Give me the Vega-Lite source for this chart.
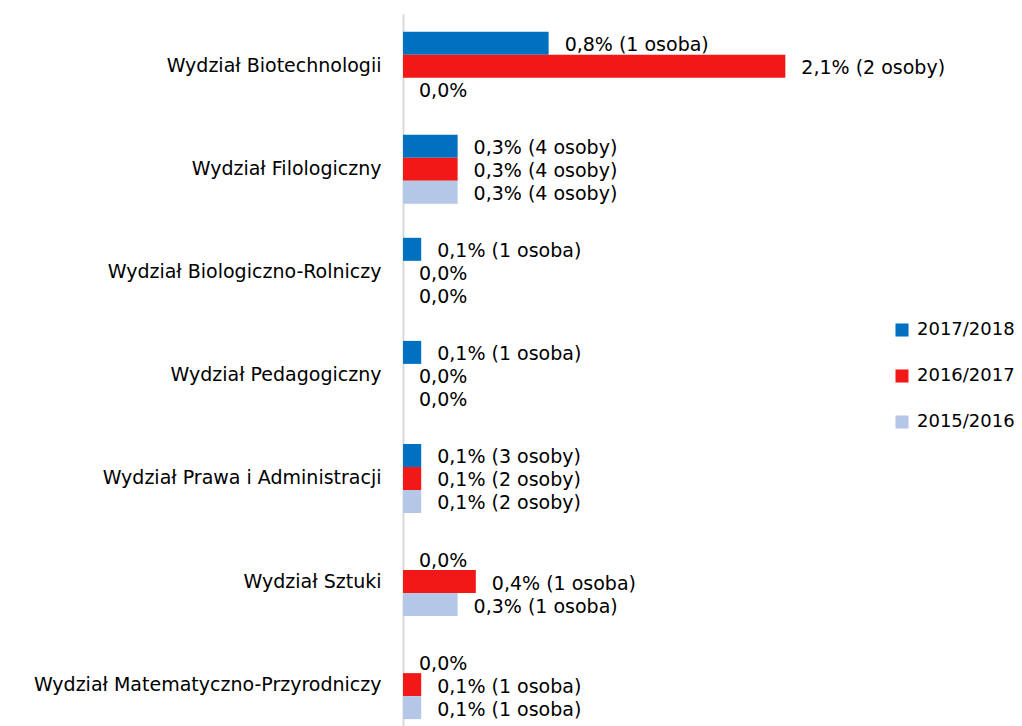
{
  "$schema": "https://vega.github.io/schema/vega-lite/v6.json",
  "width": 619,
  "height": 712,
  "autosize": {"type": "none"},
  "padding": {"left": 403, "top": 14, "right": 0, "bottom": 0},
  "background": "white",
  "config": {
    "view": {"stroke": null},
    "font": "DejaVu Sans",
    "axis": {"labelFont": "DejaVu Sans", "labelColor": "#000000"}
  },
  "data": {
    "values": [
      {"wydzial": "Wydział Biotechnologii", "rok": "2017/2018", "v": 0.8, "label": "0,8% (1 osoba)"},
      {"wydzial": "Wydział Biotechnologii", "rok": "2016/2017", "v": 2.1, "label": "2,1% (2 osoby)"},
      {"wydzial": "Wydział Biotechnologii", "rok": "2015/2016", "v": 0, "label": "0,0%"},
      {"wydzial": "Wydział Filologiczny", "rok": "2017/2018", "v": 0.3, "label": "0,3% (4 osoby)"},
      {"wydzial": "Wydział Filologiczny", "rok": "2016/2017", "v": 0.3, "label": "0,3% (4 osoby)"},
      {"wydzial": "Wydział Filologiczny", "rok": "2015/2016", "v": 0.3, "label": "0,3% (4 osoby)"},
      {"wydzial": "Wydział Biologiczno-Rolniczy", "rok": "2017/2018", "v": 0.1, "label": "0,1% (1 osoba)"},
      {"wydzial": "Wydział Biologiczno-Rolniczy", "rok": "2016/2017", "v": 0, "label": "0,0%"},
      {"wydzial": "Wydział Biologiczno-Rolniczy", "rok": "2015/2016", "v": 0, "label": "0,0%"},
      {"wydzial": "Wydział Pedagogiczny", "rok": "2017/2018", "v": 0.1, "label": "0,1% (1 osoba)"},
      {"wydzial": "Wydział Pedagogiczny", "rok": "2016/2017", "v": 0, "label": "0,0%"},
      {"wydzial": "Wydział Pedagogiczny", "rok": "2015/2016", "v": 0, "label": "0,0%"},
      {"wydzial": "Wydział Prawa i Administracji", "rok": "2017/2018", "v": 0.1, "label": "0,1% (3 osoby)"},
      {"wydzial": "Wydział Prawa i Administracji", "rok": "2016/2017", "v": 0.1, "label": "0,1% (2 osoby)"},
      {"wydzial": "Wydział Prawa i Administracji", "rok": "2015/2016", "v": 0.1, "label": "0,1% (2 osoby)"},
      {"wydzial": "Wydział Sztuki", "rok": "2017/2018", "v": 0, "label": "0,0%"},
      {"wydzial": "Wydział Sztuki", "rok": "2016/2017", "v": 0.4, "label": "0,4% (1 osoba)"},
      {"wydzial": "Wydział Sztuki", "rok": "2015/2016", "v": 0.3, "label": "0,3% (1 osoba)"},
      {"wydzial": "Wydział Matematyczno-Przyrodniczy", "rok": "2017/2018", "v": 0, "label": "0,0%"},
      {"wydzial": "Wydział Matematyczno-Przyrodniczy", "rok": "2016/2017", "v": 0.1, "label": "0,1% (1 osoba)"},
      {"wydzial": "Wydział Matematyczno-Przyrodniczy", "rok": "2015/2016", "v": 0.1, "label": "0,1% (1 osoba)"}
    ]
  },
  "encoding": {
    "y": {
      "field": "wydzial",
      "type": "nominal",
      "sort": null,
      "scale": {"paddingInner": 0.3305, "paddingOuter": 0.119, "align": 0.72},
      "axis": {
        "title": null,
        "ticks": false,
        "labelFontSize": 19,
        "labelPadding": 22,
        "labelLimit": 500,
        "domainColor": "#d9d9d9",
        "domainWidth": 2,
        "grid": false
      }
    },
    "yOffset": {"field": "rok", "type": "nominal", "sort": ["2017/2018", "2016/2017", "2015/2016"]},
    "x": {
      "field": "v",
      "type": "quantitative",
      "scale": {"domain": [0, 3.4], "nice": false},
      "axis": null
    }
  },
  "layer": [
    {
      "mark": {"type": "bar"},
      "encoding": {
        "color": {
          "field": "rok",
          "type": "nominal",
          "sort": ["2017/2018", "2016/2017", "2015/2016"],
          "scale": {"domain": ["2017/2018", "2016/2017", "2015/2016"], "range": ["#0070C0", "#F21818", "#B4C7E7"]},
          "legend": {
            "title": null,
            "orient": "none",
            "legendX": 490,
            "legendY": 307,
            "symbolType": "square",
            "symbolSize": 170,
            "symbolStrokeWidth": 0,
            "labelFontSize": 18,
            "labelColor": "#000000",
            "labelFont": "DejaVu Sans",
            "rowPadding": 28,
            "labelOffset": 6
          }
        }
      }
    },
    {
      "mark": {"type": "text", "align": "left", "baseline": "middle", "dx": 16, "dy": 2, "fontSize": 19, "color": "#000000"},
      "encoding": {"text": {"field": "label"}}
    }
  ]
}
